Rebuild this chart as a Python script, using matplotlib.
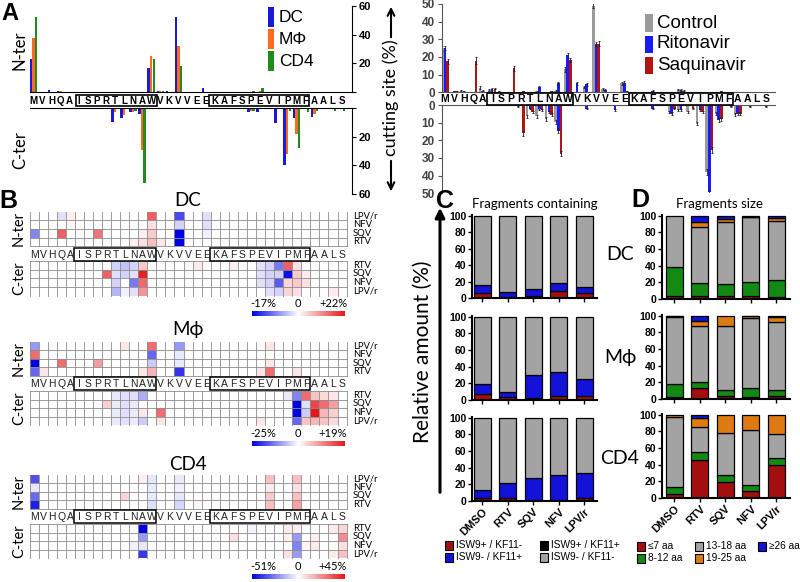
import matplotlib
matplotlib.use('Agg')
import matplotlib.pyplot as plt
import numpy as np
from matplotlib.patches import Rectangle, FancyArrowPatch
from matplotlib.colors import LinearSegmentedColormap, TwoSlopeNorm

plt.rcParams['font.family'] = ['Liberation Sans', 'DejaVu Sans']
CAL = ['Lato', 'DejaVu Sans']

# ---------------- data ----------------
seq = list("MVHQAISPRTLNAWVKVVEEKAFSPEVIPMFAALS")

# panel A left: cutting site (%) per residue, sparse {index: value}
a_nter_dc = {0: 23, 1: 0.3, 2: 1.2, 3: 0.5, 4: 0.3, 13: 17, 14: 1, 15: 0.8, 16: 52, 19: 3}
a_nter_mf = {0: 38, 1: 0.3, 3: 0.5, 13: 25, 14: 1, 16: 32, 25: 1, 29: 0.3}
a_nter_cd = {0: 52, 13: 23, 14: 1, 16: 18, 24: 1, 25: 2.5}
a_cter_dc = {9: 10, 10: 7, 11: 3, 12: 4.5, 15: 1, 24: 3, 25: 3, 27: 10.5, 28: 39.5, 29: 7, 31: 6}
a_cter_mf = {9: 3, 10: 5, 11: 3, 12: 29, 24: 2, 28: 32, 29: 18, 31: 4}
a_cter_cd = {11: 2, 12: 52, 24: 2, 28: 2, 29: 28, 30: 2.5, 31: 2, 33: 2, 34: 2}

# panel A right: control / ritonavir / saquinavir (value, error)
r_nter_ctrl = {0: (25, 1.5), 2: (1, 0.3), 4: (2.5, 0.8), 5: (1.5, 0.5), 6: (0.5, 0.2), 10: (0.5, 0.2),
               12: (1, 0.3), 13: (13, 1.5), 15: (3, 0.8), 16: (49, 1.5), 17: (2, 0.5), 19: (5, 0.8), 25: (1.5, 0.4)}
r_nter_rit = {0: (25, 1.2), 1: (0.5, 0.2), 2: (0.5, 0.2), 4: (1, 0.3), 5: (2, 0.5), 10: (3, 0.6), 12: (5, 0.8),
              13: (21, 1.5), 14: (5, 1), 15: (4.5, 1), 16: (27.5, 1.2), 17: (1.5, 0.3), 19: (5.5, 0.8),
              22: (1, 0.3), 25: (1.5, 0.4)}
r_nter_saq = {0: (17.5, 1.5), 1: (0.5, 0.2), 3: (18, 1.8), 5: (2, 0.4), 7: (13.5, 1.5), 8: (0.5, 0.2),
              11: (0.5, 0.2), 13: (18.5, 1.2), 16: (27.5, 1.5), 19: (0.5, 0.2), 25: (1, 0.3), 29: (0.5, 0.2)}
r_cter_ctrl = {8: (1, 0.3), 9: (6.5, 1), 10: (6.5, 1), 11: (8, 1), 12: (9.5, 1), 24: (4, 0.8), 25: (3, 0.6),
               26: (4, 0.8), 27: (10.5, 1), 28: (38, 1.5), 29: (5, 0.8), 31: (5.5, 0.8)}
r_cter_rit = {9: (2, 0.5), 10: (2.5, 0.5), 11: (4, 0.6), 12: (14.5, 1.2), 15: (2, 0.5), 18: (3, 0.5),
              22: (2, 0.5), 24: (5, 0.8), 25: (3, 0.5), 27: (3, 0.5), 28: (49.5, 1), 29: (8.5, 1),
              31: (5, 0.8), 34: (1, 0.3)}
r_cter_saq = {8: (16, 1.5), 9: (4, 0.6), 10: (3, 0.5), 11: (5.5, 0.8), 12: (27.5, 1.5), 24: (2, 0.4),
              26: (2, 0.4), 27: (4, 0.6), 28: (25.5, 1.5), 29: (8, 1), 30: (1, 0.3), 31: (5, 0.8), 32: (1, 0.3)}

# panel B heatmaps: difference (%) vs control; {column: value} for each row
hm_rows_n = ['LPV/r', 'NFV', 'SQV', 'RTV']
hm_rows_c = ['RTV', 'SQV', 'NFV', 'LPV/r']
dc_n = [{3: -2, 4: 1.5, 13: 15, 16: -12, 19: -2},
        {4: 1, 13: 3, 16: -3, 19: -2},
        {0: -8, 3: 15, 7: 13, 12: 1.5, 13: 5, 16: -17, 19: -1},
        {11: 1.5, 12: 3, 13: 6, 14: 2, 16: -17}]
dc_c = [{9: -3, 10: -4, 11: -3, 12: 5, 18: 2, 22: 1.5, 25: -2, 26: -3, 27: -9, 28: 15, 29: 3},
        {8: 15, 9: -2, 10: -3, 11: -2, 12: 21, 25: -2, 26: -3, 27: -3, 28: -16, 29: 5, 30: 2},
        {9: -3, 11: -9, 12: 14, 25: -2, 26: -3, 27: -11, 28: 4, 29: 5, 30: 3},
        {9: -5, 10: -1, 11: -2, 12: 10, 26: -2, 27: -3, 28: 4, 29: 3, 33: 2}]
mf_n = [{0: -10, 10: 2, 13: 12, 16: -10, 26: 2},
        {0: 12, 13: -15, 16: -2},
        {0: -25, 3: 12, 7: 8, 13: -5, 16: -2, 26: 2},
        {0: -15, 1: 2, 12: 2, 13: 6, 16: -20, 25: 2, 26: 12, 29: 2}]
mf_c = [{9: -2, 10: -3, 11: -3, 12: -8, 28: -2, 29: -12, 30: 12, 31: 5, 32: 3, 33: 2},
        {8: 4, 9: -2, 10: -3, 11: -2, 29: -25, 30: -3, 31: 15, 32: 12, 33: 8},
        {9: -2, 10: -3, 11: -2, 12: 2, 14: 12, 29: -25, 30: -5, 31: 19, 32: 6, 33: 4},
        {9: -2, 10: -3, 11: -2, 12: -5, 14: 2, 25: 2, 29: -15, 30: 5, 31: 6, 32: 5, 33: 3}]
cd_n = [{0: -35, 12: 3, 13: -5, 16: -4, 26: 12, 29: 12},
        {0: -5, 13: -4, 16: -3, 26: 4, 29: 6},
        {0: -30, 10: 8, 13: -4, 16: -5, 26: 10, 29: 12},
        {0: -45, 13: -6, 16: -8, 18: 2, 26: 12, 29: 18}]
cd_c = [{12: -51, 24: -2, 28: 4, 29: 3, 33: 4, 34: 8},
        {12: -20, 22: 6, 28: 3, 29: -20, 31: 3, 34: 22},
        {11: -3, 12: -5, 29: -25, 30: 2, 31: 4, 34: 6},
        {12: -40, 28: 6, 29: -20, 33: 4, 34: 12}]
hm_ranges = [(-17, 22), (-25, 19), (-51, 45)]

# panels C / D
drugs = ['DMSO', 'RTV', 'SQV', 'NFV', 'LPV/r']
c_red = [[5.6, 1, 2.8, 8.4, 5.6], [6.8, 3.9, 3, 4.5, 5], [3, 3, 1, 1.5, 3]]
c_black = [[0, 0, 0, 0, 0], [0, 0, 0, 0, 0], [0, 0, 0, 0, 0]]
c_blue = [[10, 5.8, 7.6, 9.3, 8], [13, 5.2, 27.5, 29.2, 20], [10, 18.7, 26.7, 29.3, 31]]
c_grey = [[84.4, 93.2, 89.6, 82.3, 86.4], [80.2, 90.9, 69.5, 66.3, 75], [87, 78.3, 72.3, 69.2, 66]]

d_le7 = [[3.6, 4, 3.2, 3.2, 2.4], [2.8, 12.7, 4, 2.8, 4], [4.8, 45.6, 19.8, 8.7, 39.7]]
d_8_12 = [[34.9, 15.4, 14.3, 17.4, 20.2], [15.1, 7.9, 7, 10.2, 7], [7.9, 10, 8, 7.2, 7.9]]
d_13_18 = [[61.5, 66.6, 75.4, 77.4, 71], [80.9, 67.4, 77, 83.8, 81], [84.5, 29.7, 50.4, 65.4, 29.8]]
d_19_25 = [[0, 6.9, 3.1, 0.5, 3.6], [0.7, 6, 12, 2.7, 7], [2.8, 11.1, 21.8, 18.7, 22.6]]
d_ge26 = [[0, 7.1, 4, 1.5, 2.8], [0.5, 6, 0, 0.5, 1], [0, 3.6, 0, 0, 0]]

# ---------------- helpers ----------------
W, H = 800, 582
fig = plt.figure(figsize=(8, 5.82), dpi=100)


def add_ax(x0, y0, x1, y1):
    return fig.add_axes([x0 / W, 1 - y1 / H, (x1 - x0) / W, (y1 - y0) / H])


def ftext(x, y, s, **kw):
    kw.setdefault('ha', 'center')
    kw.setdefault('va', 'center')
    return fig.text(x / W, 1 - y / H, s, **kw)


def fbox(x0, y0, x1, y1, lw=1.2, fc='none', ec='black'):
    fig.add_artist(Rectangle((x0 / W, 1 - y1 / H), (x1 - x0) / W, (y1 - y0) / H,
                             transform=fig.transFigure, fc=fc, ec=ec, lw=lw))


def farrow(x, y0, y1, lw=1.5, style='->', ms=12):
    fig.add_artist(FancyArrowPatch((x / W, 1 - y0 / H), (x / W, 1 - y1 / H), transform=fig.transFigure,
                                   arrowstyle=style, mutation_scale=ms, lw=lw, color='black'))


def dense(d):
    a = np.zeros(35)
    for k, v in d.items():
        a[k] = v
    return a


def dense_err(d):
    a, e = np.zeros(35), np.zeros(35)
    for k, (v, s) in d.items():
        a[k], e[k] = v, s
    return a, e


x = np.arange(35)

# ---------------- panel A left ----------------
colA = ['#1a1ad6', '#ff6a1f', '#1f8c1f']
for (y0, y1, series, inv) in [(6, 92, [a_nter_dc, a_nter_mf, a_nter_cd], False),
                              (108, 194, [a_cter_dc, a_cter_mf, a_cter_cd], True)]:
    ax = add_ax(30, y0, 352, y1)
    for d, c, off in zip(series, colA, [-0.28, 0, 0.28]):
        ax.bar(x + off, dense(d), 0.27, color=c)
    ax.set_xlim(-0.364, 35.14)
    ax.set_ylim((60, 0) if inv else (0, 60))
    ax.spines['left'].set_visible(False)
    ax.spines['top' if not inv else 'bottom'].set_visible(False)
    for s in ax.spines.values():
        s.set_linewidth(0.8)
    ax.set_xticks([])
    ax.yaxis.tick_right()
    ax.set_yticks([0, 20, 40, 60])
    ax.set_yticklabels(['', '20', '40', '60'], fontweight='bold', fontsize=8)
    ax.tick_params(axis='y', length=3, pad=2)
    ax.patch.set_alpha(0)

for i, ch in enumerate(seq):
    ftext(33.3 + 9.07 * i, 100.5, ch, fontsize=7, fontweight='bold')
fbox(75.5, 95.5, 156.5, 106)
fbox(209, 95.5, 308.5, 106)
ftext(20, 50, 'N-ter', rotation=90, fontsize=12, family=CAL)
ftext(20, 150, 'C-ter', rotation=90, fontsize=12, family=CAL)
for i, (lab, c) in enumerate(zip(['DC', 'MΦ', 'CD4'], colA)):
    yy = 17 + 22 * i
    fbox(268, yy - 10, 274, yy + 10, lw=0, fc=c)
    ftext(279, yy, lab, fontsize=12.5, ha='left')
ftext(391, 98, 'cutting site (%)', rotation=90, fontsize=13, family=CAL)
farrow(391, 40, 4)
farrow(391, 158, 194)
ftext(10, 13, 'A', fontsize=17, fontweight='bold')

# ---------------- panel A right ----------------
colR = ['#9a9a9a', '#1a1aff', '#b01414']
for (y0, y1, series, inv) in [(4, 92.3, [r_nter_ctrl, r_nter_rit, r_nter_saq], False),
                              (105, 193.3, [r_cter_ctrl, r_cter_rit, r_cter_saq], True)]:
    ax = add_ax(441.7, y0, 775, y1)
    for d, c, off in zip(series, colR, [-0.29, 0, 0.29]):
        v, e = dense_err(d)
        ax.bar(x + off, v, 0.27, color=c)
        m = v > 0
        ax.errorbar(x[m] + off, v[m], yerr=e[m], fmt='none', ecolor='#222222', elinewidth=0.6,
                    capsize=1, capthick=0.6)
    ax.set_xlim(-0.35, 34.96)
    ax.set_ylim((50, 0) if inv else (0, 50))
    ax.spines['right'].set_visible(False)
    ax.spines['top' if not inv else 'bottom'].set_visible(False)
    for s in ax.spines.values():
        s.set_linewidth(0.8)
        s.set_color('#555555')
    ax.set_xticks([])
    ax.set_yticks(range(0, 51, 10))
    ax.set_yticklabels([str(t) for t in range(0, 51, 10)], fontweight='bold', fontsize=8.5, color='#444444')
    ax.tick_params(axis='y', length=3, pad=2, color='#555555')
    ax.patch.set_alpha(0)

for i, ch in enumerate(seq):
    ftext(445 + 9.44 * i, 99, ch, fontsize=7.5, fontweight='bold')
fbox(487.3, 93.3, 573.3, 105)
fbox(629.3, 93.3, 733.3, 105)
for i, (lab, c) in enumerate(zip(['Control', 'Ritonavir', 'Saquinavir'], colR)):
    yy = 23 + 21 * i
    fbox(645, yy - 8.5, 653, yy + 8.5, lw=0, fc=c)
    ftext(657, yy, lab, fontsize=13.5, ha='left')

# ---------------- panel B heatmaps ----------------
hm_cmap = LinearSegmentedColormap.from_list('bwr2', ['#0000e6', '#ffffff', '#e8161b'])
gcol = '#8c8c8c'
gx0, cw = 29.5, 9.06
blocks = [('DC', dc_n, dc_c, 200, 211.7), ('Mϕ', mf_n, mf_c, 329, 341.5), ('CD4', cd_n, cd_c, 465, 474.5)]
rh = 8.6


def heat(ax, rows, norm, nter):
    data = np.zeros((4, 35))
    for r, d in enumerate(rows):
        for c, v in d.items():
            data[r, c] = v
    ax.pcolormesh(np.arange(36) - 0.5, np.arange(5), data, cmap=hm_cmap, norm=norm)
    ax.set_xlim(-0.5, 34.5)
    ax.set_ylim(4, 0)
    for c in range(36):
        ax.plot([c - 0.5, c - 0.5], [0, 4], color=gcol, lw=0.6, clip_on=False)
    for h in ([1, 2, 3, 4] if nter else [0, 1, 2, 3]):
        ax.plot([-0.5, 34.5], [h, h], color=gcol, lw=0.6, clip_on=False)
    ax.axis('off')


for (title, nrows, crows, ty, top), (lo, hi) in zip(blocks, hm_ranges):
    norm = TwoSlopeNorm(vmin=lo, vcenter=0, vmax=hi)
    ftext(188, ty, title, fontsize=13.5, family=CAL)
    n_bot = top + 4 * rh
    let_y = n_bot + 8.5
    c_top = let_y + 6.5
    c_bot = c_top + 4 * rh
    axn = add_ax(gx0, top, gx0 + 35 * cw, n_bot)
    heat(axn, nrows, norm, True)
    axc = add_ax(gx0, c_top, gx0 + 35 * cw, c_bot)
    heat(axc, crows, norm, False)
    for i, ch in enumerate(seq):
        ftext(gx0 + cw * (i + 0.5), let_y, ch, fontsize=7.5, color='#222222')
    fbox(gx0 + cw * 5 - 1, n_bot + 1.5, gx0 + cw * 14 - 0.5, c_top - 0.5, lw=1.1)
    fbox(gx0 + cw * 20 - 0.5, n_bot + 1.5, gx0 + cw * 31 - 0.5, c_top - 0.5, lw=1.1)
    for r, lab in enumerate(hm_rows_n):
        ftext(353, top + rh * (r + 0.5), lab, fontsize=6.8, ha='left', family=CAL)
    for r, lab in enumerate(hm_rows_c):
        ftext(353, c_top + rh * (r + 0.5), lab, fontsize=6.8, ha='left', family=CAL)
    ftext(19, (top + n_bot) / 2, 'N-ter', rotation=90, fontsize=10.5, family=CAL)
    ftext(19, (c_top + c_bot) / 2, 'C-ter', rotation=90, fontsize=10.5, family=CAL)
    cb_y = c_bot + 16
    axb = add_ax(252, cb_y, 345, cb_y + 5)
    axb.imshow(np.linspace(0, 1, 256)[None, :], aspect='auto', cmap=hm_cmap)
    axb.axis('off')
    ftext(263, cb_y - 8, '%d%%' % lo, fontsize=8, family=CAL)
    ftext(298, cb_y - 8, '0', fontsize=8, family=CAL)
    ftext(333, cb_y - 8, '+%d%%' % hi, fontsize=8, family=CAL)
ftext(8, 201, 'B', fontsize=18, fontweight='bold')

# ---------------- panels C / D ----------------
cC = ['#a30f0f', '#000000', '#1212d8', '#a3a3a3']
cD = ['#a30f0f', '#138a13', '#a3a3a3', '#dd7a12', '#1212d8']
rowsC = [(215, 298), (316, 400), (416.7, 501)]
rowsD = [(215, 299), (315, 399), (414, 498)]
bx = np.arange(5)


def stacked(ax, layers, colors):
    bottom = np.zeros(5)
    for vals, col in zip(layers, colors):
        vals = np.array(vals, dtype=float)
        for i in range(5):
            if vals[i] > 0:
                ax.bar(bx[i], vals[i], 0.667, bottom=bottom[i], color=col, edgecolor='black', lw=0.9)
        bottom += vals


def style(ax, last, xl):
    ax.set_xlim(*xl)
    ax.set_ylim(0, 101)
    for s in ['top', 'right']:
        ax.spines[s].set_visible(False)
    for s in ['left', 'bottom']:
        ax.spines[s].set_linewidth(1.5)
    ax.set_yticks(range(0, 101, 20))
    ax.set_yticklabels([str(t) for t in range(0, 101, 20)], fontweight='bold', fontsize=7.5)
    ax.tick_params(length=3, width=1, pad=1)
    ax.set_xticks(bx)
    if last:
        ax.set_xticklabels(drugs, rotation=45, ha='right', rotation_mode='anchor', fontweight='bold', fontsize=8)
    else:
        ax.set_xticklabels([])


for k in range(3):
    ax = add_ax(471.7, rowsC[k][0], 597, rowsC[k][1])
    stacked(ax, [c_red[k], c_black[k], c_blue[k], c_grey[k]], cC)
    style(ax, k == 2, (-0.42, 4.49))
    ax = add_ax(661.7, rowsD[k][0], 790, rowsD[k][1])
    stacked(ax, [d_le7[k], d_8_12[k], d_13_18[k], d_19_25[k], d_ge26[k]], cD)
    style(ax, k == 2, (-0.5, 4.53))

ftext(535, 204, 'Fragments containing', fontsize=9.5, family=CAL)
ftext(720, 204, 'Fragments size', fontsize=9.5, family=CAL)
ftext(445, 201, 'C', fontsize=18, fontweight='bold')
ftext(640, 200, 'D', fontsize=18, fontweight='bold')
for lab, yy in zip(['DC', 'Mϕ', 'CD4'], [255, 357, 459]):
    ftext(620, yy, lab, fontsize=14, family=CAL)
ftext(423, 352, 'Relative amount (%)', rotation=90, fontsize=15, family=CAL)
farrow(440, 495, 205, lw=2.2, style='-|>', ms=14)

# legends
legC = [('ISW9+ / KF11-', cC[0], 445, 545), ('ISW9+ / KF11+', cC[1], 540, 545),
        ('ISW9- / KF11+', cC[2], 445, 557), ('ISW9- / KF11-', cC[3], 540, 557)]
for lab, c, lx, ly in legC:
    fbox(lx, ly - 4.5, lx + 8, ly + 4.5, lw=0.8, fc=c)
    ftext(lx + 11, ly, lab, fontsize=7.3, ha='left')
legD = [('≤7 aa', cD[0], 637, 546), ('13-18 aa', cD[2], 695, 546), ('≥26 aa', cD[4], 758, 546),
        ('8-12 aa', cD[1], 637, 558), ('19-25 aa', cD[3], 695, 558)]
for lab, c, lx, ly in legD:
    fbox(lx, ly - 4.5, lx + 8, ly + 4.5, lw=0.8, fc=c)
    ftext(lx + 11, ly, lab, fontsize=7.3, ha='left')

fig.savefig('out.png', dpi=100)
